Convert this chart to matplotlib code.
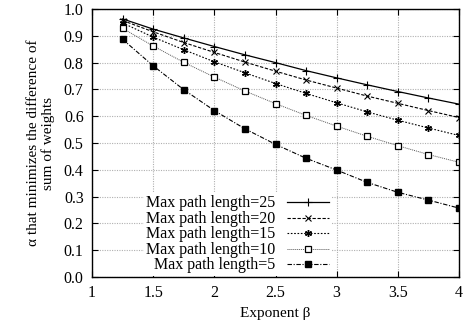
import numpy as np
import matplotlib
matplotlib.use('Agg')
import matplotlib.pyplot as plt

plt.rcParams['font.family'] = ['Liberation Serif', 'DejaVu Serif']
plt.rcParams['mathtext.fontset'] = 'stix'

# exponent beta values
beta = [1.25, 1.5, 1.75, 2.0, 2.25, 2.5, 2.75, 3.0, 3.25, 3.5, 3.75, 4.0]

len25 = [0.963, 0.925, 0.892, 0.860, 0.829, 0.800, 0.770, 0.743, 0.717, 0.692, 0.668, 0.645]
len20 = [0.957, 0.915, 0.875, 0.838, 0.802, 0.768, 0.735, 0.705, 0.675, 0.648, 0.621, 0.595]
len15 = [0.948, 0.895, 0.848, 0.803, 0.762, 0.722, 0.685, 0.650, 0.616, 0.585, 0.556, 0.528]
len10 = [0.928, 0.862, 0.801, 0.746, 0.694, 0.647, 0.603, 0.563, 0.525, 0.490, 0.457, 0.428]
len5 = [0.887, 0.788, 0.699, 0.621, 0.553, 0.495, 0.443, 0.399, 0.353, 0.316, 0.287, 0.257]

labels = ['Max path length=25', 'Max path length=20', 'Max path length=15',
          'Max path length=10', 'Max path length=5']

fig = plt.figure(figsize=(4.65, 3.33), dpi=100)
ax = fig.add_axes([92 / 465, 1 - 277 / 333, (459 - 92) / 465, (277 - 9) / 333])

ax.plot(beta, len25, color='black', lw=0.9, ls='-', marker='+', ms=5.5, mew=0.8, label=labels[0])
ax.plot(beta, len20, color='black', lw=0.8, ls=(0, (3, 1.5)), marker='x', ms=4, mew=0.8, label=labels[1])
ax.plot(beta, len15, color='black', lw=0.8, ls=(0, (1.5, 1.5)), marker=(6, 2, 0), ms=5, mew=1.0, label=labels[2])
ax.plot(beta, len10, color='#555555', lw=0.7, ls=(0, (1, 1)), marker='s', ms=4.5, mfc='white',
        mec='black', mew=0.9, label=labels[3])
ax.plot(beta, len5, color='black', lw=0.8, ls=(0, (4, 1.5, 1, 1.5)), marker='s', ms=4.5, label=labels[4])

ax.set_xlim(1, 4)
ax.set_ylim(0, 1)
ax.set_xticks([1, 1.5, 2, 2.5, 3, 3.5, 4])
ax.set_xticklabels(['1', '1.5', '2', '2.5', '3', '3.5', '4'])
ax.set_yticks(np.arange(0, 1.01, 0.1))
ax.set_yticklabels(['%.1f' % v for v in np.arange(0, 1.01, 0.1)])
ax.tick_params(direction='in', top=True, right=True, labelsize=11.5, length=4, width=0.8, pad=6)
ax.grid(True, color='#b0b0b0', ls=(0, (1, 1.2)), lw=0.8)
for s in ax.spines.values():
    s.set_linewidth(1.0)

ax.set_xlabel('Exponent β', fontsize=11, labelpad=4)
ax.set_ylabel('α that minimizes the difference of\nsum of weights', fontsize=11, labelpad=6)

leg = ax.legend(loc='lower right', bbox_to_anchor=(0.655, 0.0), markerfirst=False, frameon=True,
                framealpha=1, edgecolor='none', fancybox=False, fontsize=11.5, handlelength=2.6,
                handleheight=0.5, labelspacing=-0.03, borderpad=0.15, handletextpad=0.75,
                borderaxespad=0.08)
for t in leg.get_texts():
    t.set_ha('right')
leg._legend_box.align = 'right'

fig.savefig('out.png', dpi=100)
